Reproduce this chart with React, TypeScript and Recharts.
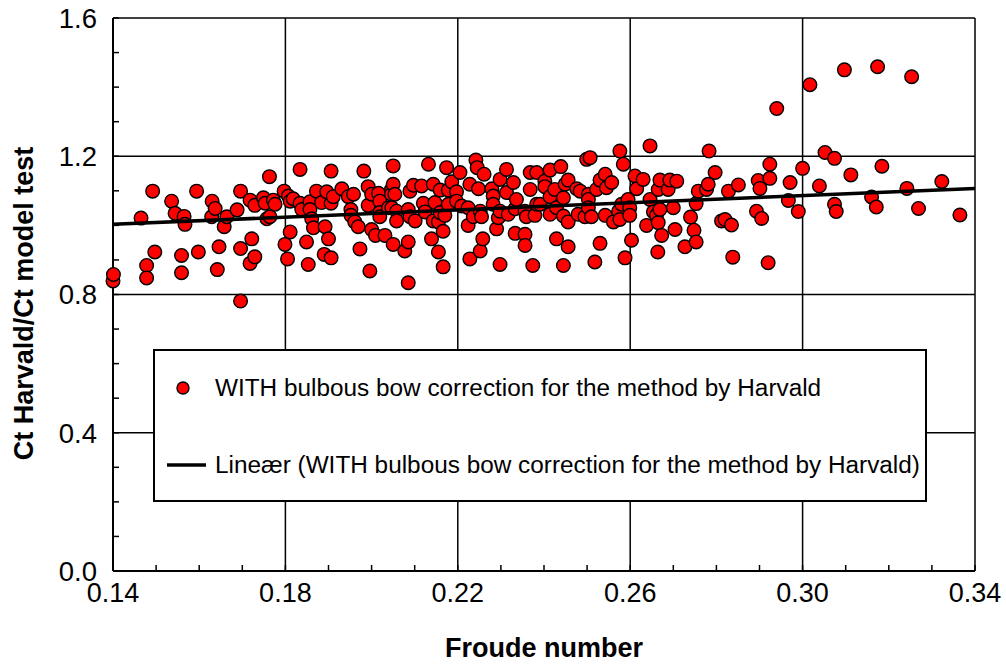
import React from 'react';
import { ComposedChart, Scatter, XAxis, YAxis, CartesianGrid, Legend } from 'recharts';

// Froude number (x) and Ct Harvald / Ct model test (y)
const froude = [
  0.1400, 0.1401, 0.1465, 0.1478, 0.1478, 0.1492, 0.1497, 0.1536, 0.1544, 0.1559,
  0.1559, 0.1565, 0.1567, 0.1594, 0.1598, 0.1629, 0.1630, 0.1637, 0.1642, 0.1646,
  0.1658, 0.1664, 0.1688, 0.1696, 0.1696, 0.1696, 0.1718, 0.1718, 0.1722,
  0.1729, 0.1729, 0.1749, 0.1753, 0.1757, 0.1763, 0.1764, 0.1772, 0.1776, 0.1797,
  0.1799, 0.1805, 0.1807, 0.1811, 0.1811, 0.1818, 0.1834, 0.1834, 0.1838, 0.1849,
  0.1853, 0.1857, 0.1857, 0.1861, 0.1865, 0.1872, 0.1884, 0.1890, 0.1892, 0.1896,
  0.1900, 0.1906, 0.1906, 0.1906, 0.1911, 0.1931, 0.1946, 0.1952, 0.1952, 0.1958,
  0.1961, 0.1969, 0.1973, 0.1982, 0.1992, 0.1992, 0.1996, 0.2000, 0.2000, 0.2009,
  0.2016, 0.2019, 0.2019, 0.2019, 0.2031, 0.2039, 0.2046, 0.2046, 0.2050, 0.2050,
  0.2047, 0.2050, 0.2054, 0.2058, 0.2058, 0.2077, 0.2085, 0.2085, 0.2085, 0.2089,
  0.2089, 0.2097, 0.2101, 0.2116, 0.2120, 0.2124, 0.2132, 0.2139, 0.2143, 0.2143,
  0.2147, 0.2155, 0.2155, 0.2159, 0.2159, 0.2166, 0.2166, 0.2170, 0.2174, 0.2178,
  0.2178, 0.2186, 0.2197, 0.2197, 0.2205, 0.2209, 0.2224, 0.2224, 0.2228, 0.2228,
  0.2236, 0.2242, 0.2245, 0.2248, 0.2252, 0.2252, 0.2255, 0.2258, 0.2261, 0.2279,
  0.2282, 0.2282, 0.2290, 0.2294, 0.2298, 0.2298, 0.2298, 0.2313, 0.2313, 0.2317,
  0.2329, 0.2333, 0.2333, 0.2336, 0.2356, 0.2356, 0.2356, 0.2359, 0.2368, 0.2368,
  0.2374, 0.2379, 0.2383, 0.2383,
  0.2391, 0.2402, 0.2402, 0.2414, 0.2414, 0.2414, 0.2425, 0.2429, 0.2429, 0.2439,
  0.2445, 0.2445, 0.2445, 0.2449, 0.2456, 0.2456, 0.2456, 0.2476, 0.2479, 0.2484,
  0.2495, 0.2499, 0.2503, 0.2503, 0.2503, 0.2507, 0.2510, 0.2518, 0.2522, 0.2530,
  0.2530, 0.2542, 0.2542, 0.2545, 0.2557, 0.2561, 0.2573, 0.2576, 0.2576, 0.2580,
  0.2584, 0.2588, 0.2595, 0.2599, 0.2599, 0.2603, 0.2611, 0.2615, 0.2630, 0.2638,
  0.2646, 0.2646, 0.2654, 0.2661, 0.2664, 0.2665, 0.2665, 0.2669, 0.2669, 0.2673,
  0.2688, 0.2692, 0.2700, 0.2704, 0.2708, 0.2727,
  0.2740, 0.2748, 0.2753, 0.2753, 0.2758, 0.2777, 0.2781, 0.2783, 0.2797, 0.2812,
  0.2820, 0.2828, 0.2835, 0.2838, 0.2851, 0.2893, 0.2897, 0.2901, 0.2905, 0.2920,
  0.2924, 0.2924, 0.2940, 0.2967, 0.2971, 0.2990, 0.3000, 0.3017, 0.3039, 0.3052,
  0.3074, 0.3074, 0.3078, 0.3097, 0.3112, 0.3160, 0.3171, 0.3174, 0.3184, 0.3242,
  0.3253, 0.3269, 0.3323, 0.3365,
];

const ctRatio = [
  0.839, 0.858, 1.021, 0.884, 0.848, 1.099, 0.923, 1.070, 1.035, 0.913,
  0.863, 1.026, 1.003, 1.099, 0.923, 1.025, 1.070, 1.049, 0.872, 0.938,
  0.996, 1.025, 1.045, 1.099, 0.933, 0.781, 1.073, 0.890, 0.961,
  1.058, 0.909, 1.080, 1.064, 1.019, 1.141, 1.025, 1.073, 1.061, 1.099,
  0.945, 0.903, 1.085, 1.070, 0.981, 1.077, 1.162, 1.064, 1.046, 0.952,
  0.887, 1.068, 1.046, 1.019, 0.993, 1.099, 1.066, 0.916, 0.996, 1.097,
  0.961, 1.157, 1.064, 0.906, 1.083, 1.106, 1.083, 1.046, 1.029, 1.090,
  1.010, 0.996, 0.932, 1.157, 1.112, 1.058, 0.868, 1.090, 0.988, 0.971,
  1.093, 1.070, 1.037, 1.025, 0.971, 1.051, 1.104, 1.090, 1.172, 0.945,
  1.051, 1.119, 1.090, 1.041, 1.013, 0.926, 1.046, 0.952, 0.834, 1.099,
  1.025, 1.116, 1.013, 1.114, 1.064, 1.039, 1.177, 0.961, 1.119, 1.013,
  1.066, 1.010, 0.923, 1.102, 1.037, 0.983, 0.880, 1.029, 1.167, 1.102,
  1.061, 1.126, 1.097, 1.070, 1.153, 1.056, 1.051, 1.000, 1.119, 0.903,
  1.025, 1.189, 1.167, 1.106, 1.041, 0.926, 1.025, 0.961, 1.148, 1.106,
  1.085, 1.061, 0.990, 1.022, 1.133, 1.041, 0.887, 1.162, 1.095, 1.032,
  1.124, 1.048, 0.977, 1.075, 1.041, 0.974, 0.942, 1.025, 1.153, 1.104,
  0.884, 1.029, 1.153, 1.061,
  1.061, 1.128, 1.112, 1.160, 1.083, 1.032, 1.104, 1.051, 0.961, 1.170,
  1.080, 1.027, 0.884, 1.119, 1.131, 1.010, 0.938, 1.106, 1.032, 1.099,
  1.025, 1.191, 1.090, 1.075, 1.051, 1.196, 1.025, 0.894, 1.104, 1.131,
  0.948, 1.148, 1.029, 1.109, 1.124, 1.010, 1.041, 1.215, 1.017, 1.061,
  1.177, 0.906, 1.075, 1.051, 1.029, 0.957, 1.143, 1.106, 1.133, 1.000,
  1.230, 1.075, 1.039, 1.029, 0.923, 1.104, 1.008, 1.131, 1.046, 0.971,
  1.104, 1.131, 1.051, 0.988, 1.128, 0.938,
  1.024, 0.986, 1.063, 0.952, 1.099, 1.104, 1.119, 1.215, 1.153, 1.013,
  1.017, 1.099, 1.001, 0.908, 1.117, 1.041, 1.130, 1.107, 1.020, 0.892,
  1.177, 1.136, 1.338, 1.072, 1.124, 1.040, 1.165, 1.407, 1.114, 1.211,
  1.194, 1.061, 1.040, 1.450, 1.146, 1.082, 1.053, 1.459, 1.171, 1.107,
  1.430, 1.049, 1.127, 1.030,
];

// linear trend line end points
const trendX = [0.14, 0.34];
const trendY = [1.003, 1.107];

const xTicks = [
  0.14, 0.15, 0.16, 0.17, 0.18, 0.19, 0.2, 0.21, 0.22, 0.23, 0.24,
  0.25, 0.26, 0.27, 0.28, 0.29, 0.3, 0.31, 0.32, 0.33, 0.34,
];
const yTicks = [0, 0.1, 0.2, 0.3, 0.4, 0.5, 0.6, 0.7, 0.8, 0.9, 1.0, 1.1, 1.2, 1.3, 1.4, 1.5, 1.6];
const xGrid = [0.18, 0.22, 0.26, 0.3, 0.34];
const yGrid = [0.4, 0.8, 1.2, 1.6];

const seriesName = 'WITH bulbous bow correction for the method by Harvald';
const trendName = 'Lineær (WITH bulbous bow correction for the method by Harvald)';

const points = froude.map((x, i) => ({ x, y: ctRatio[i] }));
const trend = trendX.map((x, i) => ({ x, y: trendY[i] }));

const FONT = "Arial, 'Liberation Sans', sans-serif";
const Y_MARGIN = 16;
const X_MARGIN = 12;

const Dot = (props: any) => (
  <circle cx={props.cx} cy={props.cy} r={6.8} fill="#ff0000" stroke="#000" strokeWidth={1.4} />
);

const NoDot = () => <g />;

const YTick = ({ x, y, payload, index }: any) => (
  <g>
    <line x1={x + Y_MARGIN} x2={x + Y_MARGIN + 6} y1={y} y2={y} stroke="#000" strokeWidth={1.5} />
    {index % 4 === 0 && (
      <text x={x} y={y} dy="0.355em" textAnchor="end" fontFamily={FONT} fontSize={27.5} fill="#000">
        {Number(payload.value).toFixed(1)}
      </text>
    )}
  </g>
);

const XTick = ({ x, y, payload, index }: any) => (
  <g>
    <line x1={x} x2={x} y1={y - X_MARGIN} y2={y - X_MARGIN - 6} stroke="#000" strokeWidth={1.5} />
    {index % 4 === 0 && (
      <text x={x} y={y} dy="0.71em" textAnchor="middle" fontFamily={FONT} fontSize={27} fill="#000">
        {Number(payload.value).toFixed(2)}
      </text>
    )}
  </g>
);

const YLabel = ({ viewBox }: any) => {
  const cx = viewBox.x + 24;
  const cy = viewBox.y + viewBox.height / 2 + 9;
  return (
    <text
      x={cx}
      y={cy}
      transform={`rotate(-90, ${cx}, ${cy})`}
      textAnchor="middle"
      dominantBaseline="central"
      fontFamily={FONT}
      fontWeight="bold"
      fontSize={27}
      fill="#000"
    >
      Ct Harvald/Ct model test
    </text>
  );
};

const XLabel = ({ viewBox }: any) => (
  <text
    x={viewBox.x + viewBox.width / 2}
    y={viewBox.y + 86}
    textAnchor="middle"
    fontFamily={FONT}
    fontWeight="bold"
    fontSize={27}
    fill="#000"
  >
    Froude number
  </text>
);

const LegendBox = () => (
  <div
    style={{
      width: 774,
      height: 153,
      boxSizing: 'border-box',
      border: '2px solid #000',
      background: '#fff',
      fontFamily: FONT,
      fontSize: 24.35,
      color: '#000',
      position: 'relative',
    }}
  >
    <svg width={60} height={153} style={{ position: 'absolute', left: 0, top: 0 }}>
      <circle cx={28} cy={37} r={6} fill="#ff0000" stroke="#000" strokeWidth={1.4} />
      <line x1={12} x2={51} y1={114} y2={114} stroke="#000" strokeWidth={3.5} />
    </svg>
    <div style={{ position: 'absolute', left: 60, top: 23, lineHeight: '28px', whiteSpace: 'nowrap' }}>
      {seriesName}
    </div>
    <div style={{ position: 'absolute', left: 60, top: 100, lineHeight: '28px', whiteSpace: 'nowrap' }}>
      {trendName}
    </div>
  </div>
);

const App: React.FC = () => {
  return (
    <div style={{ position: 'absolute', left: 0, top: 0, width: 1006, height: 664, background: '#fff' }}>
      <ComposedChart width={1006} height={664} margin={{ top: 18, right: 31, bottom: 0, left: 0 }}>
        <CartesianGrid
          horizontal
          vertical
          horizontalValues={yGrid}
          verticalValues={xGrid}
          stroke="#000"
          strokeWidth={1.5}
          fill="none"
        />
        <XAxis
          type="number"
          dataKey="x"
          domain={[0.14, 0.34]}
          ticks={xTicks}
          interval={0}
          height={93}
          tickSize={0}
          tickMargin={X_MARGIN}
          tickLine={false}
          axisLine={{ stroke: '#000', strokeWidth: 2 }}
          tick={<XTick />}
          label={<XLabel />}
        />
        <YAxis
          type="number"
          dataKey="y"
          domain={[0, 1.6]}
          ticks={yTicks}
          interval={0}
          width={113}
          tickSize={0}
          tickMargin={Y_MARGIN}
          tickLine={false}
          axisLine={{ stroke: '#000', strokeWidth: 2 }}
          tick={<YTick />}
          label={<YLabel />}
        />
        <Legend
          layout="vertical"
          align="center"
          verticalAlign="middle"
          content={<LegendBox />}
          wrapperStyle={{ left: 153, top: 349, width: 774, height: 153 }}
        />
        <Scatter name={seriesName} data={points} shape={<Dot />} isAnimationActive={false} />
        <Scatter
          name={trendName}
          data={trend}
          shape={<NoDot />}
          line={{ stroke: '#000', strokeWidth: 3.5 }}
          isAnimationActive={false}
        />
      </ComposedChart>
    </div>
  );
};

export default App;
